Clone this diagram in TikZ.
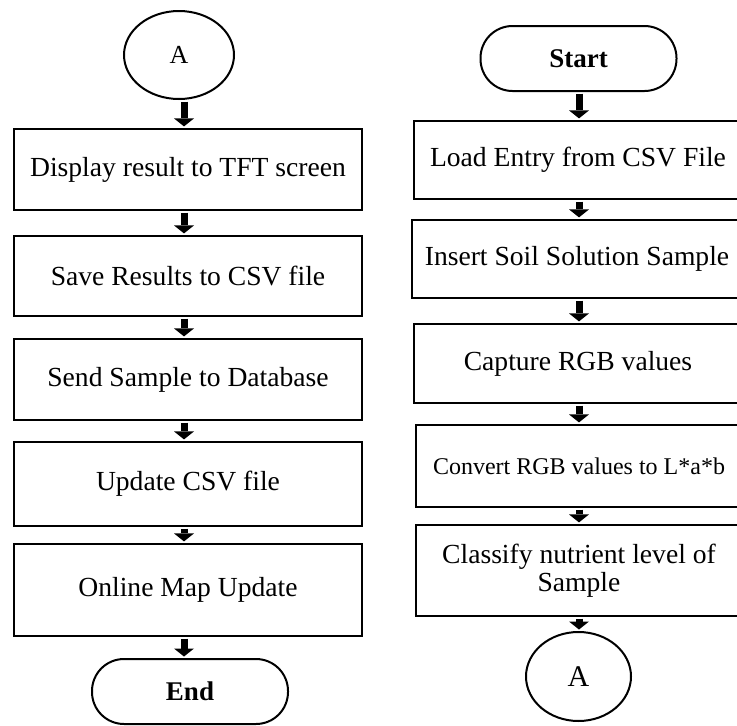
\documentclass[tikz,border=0pt]{standalone}
\usepackage{fontspec}
\setmainfont{Liberation Serif}
\usetikzlibrary{arrows.meta,shapes.geometric}
\begin{document}
\begin{tikzpicture}[x=1pt,y=-1pt,
  box/.style={draw,line width=2.2pt,inner sep=0pt,align=center,
    font=\fontsize{27.6}{28.5}\selectfont},
  term/.style={draw,line width=2pt,inner sep=0pt,rounded corners=32pt,
    minimum width=196pt,minimum height=65pt,font=\fontsize{27}{28}\selectfont\bfseries},
  conn/.style={draw,ellipse,line width=2pt,inner sep=0pt},
  flow/.style={line width=7pt,-{Triangle[width=20pt,length=8pt,line width=0pt]},
    shorten <=1.5pt,shorten >=1.5pt}
]
\clip (0,0) rectangle (737,726);
\fill[white] (0,0) rectangle (737,726);
\coordinate (xl) at (184,0);
\coordinate (xr) at (579,0);
% left column
\node[conn,minimum width=110pt,minimum height=88pt,font=\fontsize{26}{28}\selectfont] (A1) at (179,55) {A};
\node[box,minimum width=348pt,minimum height=81pt] (L1) at (188,169.5) {Display result to TFT screen};
\node[box,minimum width=348pt,minimum height=80pt] (L2) at (188,276) {Save Results to CSV file};
\node[box,minimum width=348pt,minimum height=81pt] (L3) at (188,379.5) {Send Sample to Database};
\node[box,minimum width=348pt,minimum height=84pt] (L4) at (188,484) {Update CSV file};
\node[box,minimum width=348pt,minimum height=92pt] (L5) at (188,590) {Online Map Update};
\node[term] (E) at (190,691.5) {End};
% right column
\node[term] (S) at (578.5,58.5) {Start};
\node[box,minimum width=328pt,minimum height=78pt] (R1) at (578,160) {Load Entry from CSV File};
\node[box,minimum width=330pt,minimum height=78pt] (R2) at (577,259) {Insert Soil Solution Sample};
\node[box,minimum width=328pt,minimum height=79pt] (R3) at (578,363.5) {Capture RGB values};
\node[box,minimum width=326pt,minimum height=82pt,font=\fontsize{24}{26}\selectfont] (R4) at (579,466) {Convert RGB values to L*a*b};
\node[box,minimum width=326pt,minimum height=91pt] (R5) at (579,570.5) {Classify nutrient level of\\Sample};
\node[conn,minimum width=105pt,minimum height=89pt,font=\fontsize{30}{32}\selectfont] (A2) at (578.5,676.5) {A};
% connectors
\draw[flow] (A1.south -| xl) -- (L1.north -| xl);
\draw[flow] (L1.south -| xl) -- (L2.north -| xl);
\draw[flow] (L2.south -| xl) -- (L3.north -| xl);
\draw[flow] (L3.south -| xl) -- (L4.north -| xl);
\draw[flow] (L4.south -| xl) -- (L5.north -| xl);
\draw[flow] (L5.south -| xl) -- (E.north -| xl);
\draw[flow] (S.south -| xr) -- (R1.north -| xr);
\draw[flow] (R1.south -| xr) -- (R2.north -| xr);
\draw[flow] (R2.south -| xr) -- (R3.north -| xr);
\draw[flow] (R3.south -| xr) -- (R4.north -| xr);
\draw[flow] (R4.south -| xr) -- (R5.north -| xr);
\draw[flow] (R5.south -| xr) -- (A2.north -| xr);
\end{tikzpicture}
\end{document}
